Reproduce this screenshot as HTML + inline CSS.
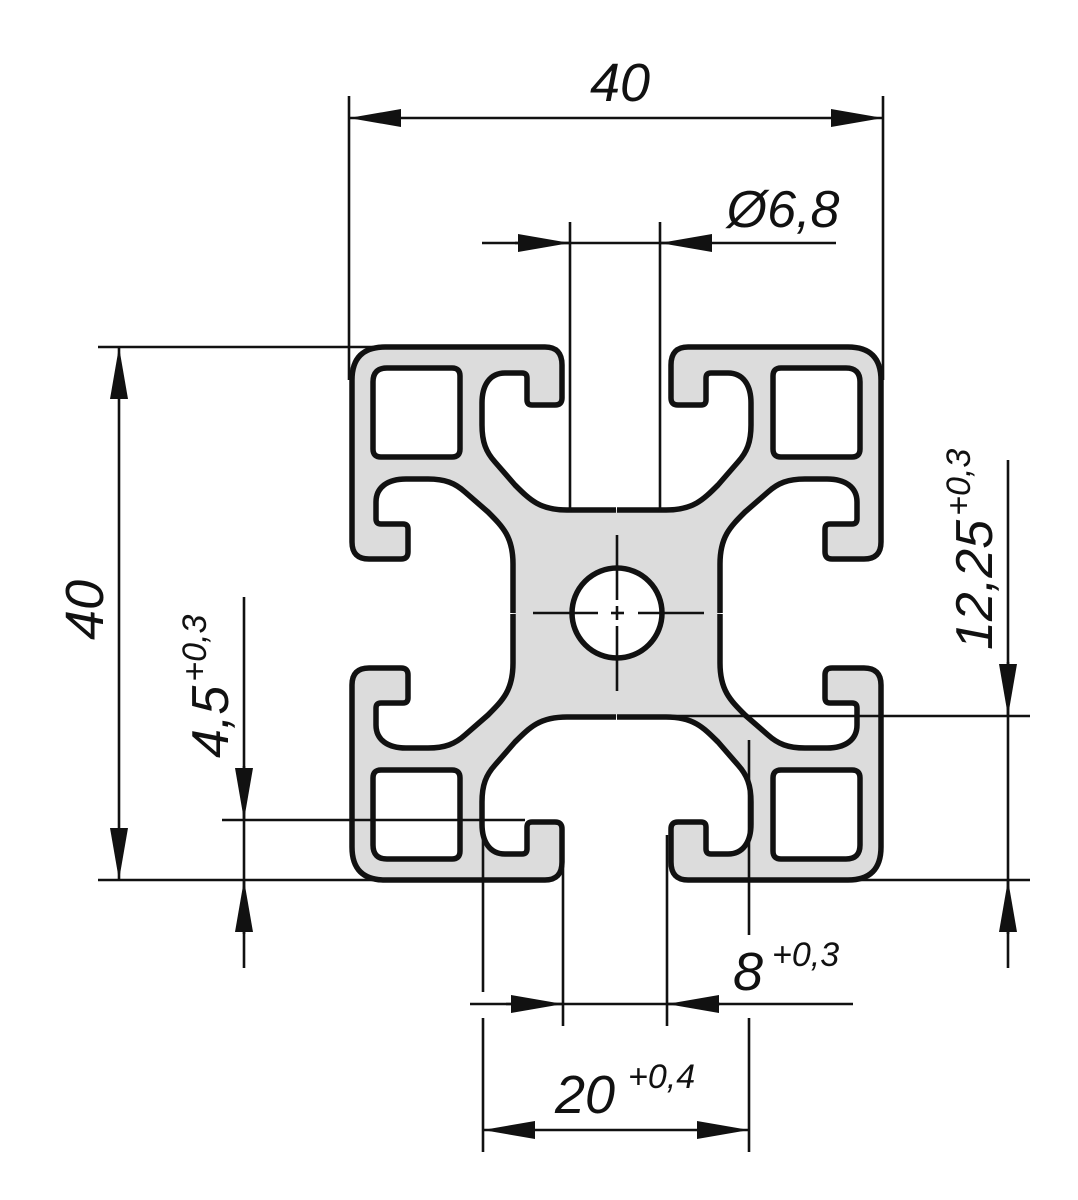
<!DOCTYPE html>
<html><head><meta charset="utf-8"><style>
html,body{margin:0;padding:0;background:#fff;width:1078px;height:1200px;overflow:hidden}
svg{display:block}
text{font-family:"Liberation Sans Narrow","Liberation Sans",sans-serif;font-style:italic;fill:#111}
</style></head><body>
<svg width="1078" height="1200" viewBox="0 0 1078 1200" xmlns="http://www.w3.org/2000/svg">
<defs>
<path id="qf" d="M616,510 L567,510 C540,510 530,500 515,485 L495,462 C486,452 482,442 482,425 L482,403 C482,385 490,373 505,373 L522,373 Q527,373 527,378 L527,400 Q527,405 532,405 L555,405 Q562,405 562,398 L562,365 Q562,347 545,347 L385,347 Q352,347 352,380 L352,542 Q352,559 369,559 L401,559 Q408,559 408,552 L408,529 Q408,524 403,524 L381,524 Q376,524 376,519 L376,502 C376,487 388,479 406,479 L428,479 C445,479 455,483 465,492 L488,512 C503,527 513,537 513,564 L513,613 L616,613 Z"/>
<path id="qs" d="M616,510 L567,510 C540,510 530,500 515,485 L495,462 C486,452 482,442 482,425 L482,403 C482,385 490,373 505,373 L522,373 Q527,373 527,378 L527,400 Q527,405 532,405 L555,405 Q562,405 562,398 L562,365 Q562,347 545,347 L385,347 Q352,347 352,380 L352,542 Q352,559 369,559 L401,559 Q408,559 408,552 L408,529 Q408,524 403,524 L381,524 Q376,524 376,519 L376,502 C376,487 388,479 406,479 L428,479 C445,479 455,483 465,492 L488,512 C503,527 513,537 513,564 L513,613"/>
<path id="sq" d="M387,368 L452,368 Q460,368 460,376 L460,449 Q460,457 452,457 L381,457 Q373,457 373,449 L373,382 Q373,368 387,368 Z"/>
<g id="q">
<use href="#qf" fill="#dcdcdc" stroke="#dcdcdc" stroke-width="1"/>
<use href="#qs" fill="none" stroke="#111" stroke-width="5.5" stroke-linejoin="round"/>
<use href="#sq" fill="#fff" stroke="#111" stroke-width="5.5"/>
</g>
<marker id="a" viewBox="0 0 52 20" refX="52" refY="10" markerWidth="52" markerHeight="20" markerUnits="userSpaceOnUse" orient="auto"><path d="M0,1 L52,10 L0,19 Z" fill="#111"/></marker>
</defs>

<use href="#q"/>
<use href="#q" transform="translate(1233,0) scale(-1,1)"/>
<use href="#q" transform="translate(0,1227) scale(1,-1)"/>
<use href="#q" transform="translate(1233,1227) scale(-1,-1)"/>
<circle cx="617" cy="613" r="45" fill="#fff" stroke="#111" stroke-width="5.5"/>

<g stroke="#111" stroke-width="2.6" fill="none">
<line x1="533" y1="613" x2="598" y2="613"/><line x1="611" y1="613" x2="624" y2="613"/><line x1="638" y1="613" x2="704" y2="613"/>
<line x1="617" y1="535" x2="617" y2="600"/><line x1="617" y1="606" x2="617" y2="620"/><line x1="617" y1="626" x2="617" y2="691"/>

<line x1="349" y1="96" x2="349" y2="380"/>
<line x1="883" y1="96" x2="883" y2="380"/>
<line x1="400" y1="118" x2="832" y2="118"/>
<line x1="400" y1="118" x2="349" y2="118" marker-end="url(#a)"/>
<line x1="832" y1="118" x2="883" y2="118" marker-end="url(#a)"/>

<line x1="570" y1="222" x2="570" y2="512"/>
<line x1="660" y1="222" x2="660" y2="512"/>
<line x1="482" y1="243" x2="836" y2="243"/>
<line x1="515" y1="243" x2="570" y2="243" marker-end="url(#a)"/>
<line x1="712" y1="243" x2="660" y2="243" marker-end="url(#a)"/>

<line x1="98" y1="347" x2="380" y2="347"/>
<line x1="98" y1="880" x2="380" y2="880"/>
<line x1="119" y1="400" x2="119" y2="828"/>
<line x1="119" y1="400" x2="119" y2="347" marker-end="url(#a)"/>
<line x1="119" y1="828" x2="119" y2="880" marker-end="url(#a)"/>

<line x1="222" y1="820" x2="525" y2="820"/>
<line x1="244" y1="597" x2="244" y2="968"/>
<line x1="244" y1="766" x2="244" y2="820" marker-end="url(#a)"/>
<line x1="244" y1="934" x2="244" y2="880" marker-end="url(#a)"/>

<line x1="668" y1="716" x2="1030" y2="716"/>
<line x1="850" y1="880" x2="1030" y2="880"/>
<line x1="1008" y1="460" x2="1008" y2="968"/>
<line x1="1008" y1="662" x2="1008" y2="716" marker-end="url(#a)"/>
<line x1="1008" y1="934" x2="1008" y2="880" marker-end="url(#a)"/>

<line x1="563" y1="835" x2="563" y2="1026"/>
<line x1="667" y1="835" x2="667" y2="1026"/>
<line x1="470" y1="1004" x2="853" y2="1004"/>
<line x1="506" y1="1004" x2="563" y2="1004" marker-end="url(#a)"/>
<line x1="720" y1="1004" x2="667" y2="1004" marker-end="url(#a)"/>

<line x1="483" y1="820" x2="483" y2="992"/>
<line x1="483" y1="1018" x2="483" y2="1152"/>
<line x1="749" y1="740" x2="749" y2="935"/>
<line x1="749" y1="1018" x2="749" y2="1152"/>
<line x1="535" y1="1130" x2="697" y2="1130"/>
<line x1="535" y1="1130" x2="483" y2="1130" marker-end="url(#a)"/>
<line x1="697" y1="1130" x2="749" y2="1130" marker-end="url(#a)"/>
</g>

<text x="620" y="101" font-size="54" text-anchor="middle">40</text>
<text x="783" y="227" font-size="52" text-anchor="middle">Ø6,8</text>
<text transform="translate(103,610) rotate(-90)" font-size="54" text-anchor="middle">40</text>
<text transform="translate(228,758) rotate(-90)" font-size="52">4,5<tspan font-size="34" dy="-22" dx="4">+0,3</tspan></text>
<text transform="translate(992,650) rotate(-90)" font-size="52">12,25<tspan font-size="34" dy="-22" dx="4">+0,3</tspan></text>
<text x="733" y="990" font-size="54">8</text>
<text x="772" y="966" font-size="34">+0,3</text>
<text x="555" y="1113" font-size="54">20</text>
<text x="628" y="1088" font-size="34">+0,4</text>
</svg>
</body></html>
